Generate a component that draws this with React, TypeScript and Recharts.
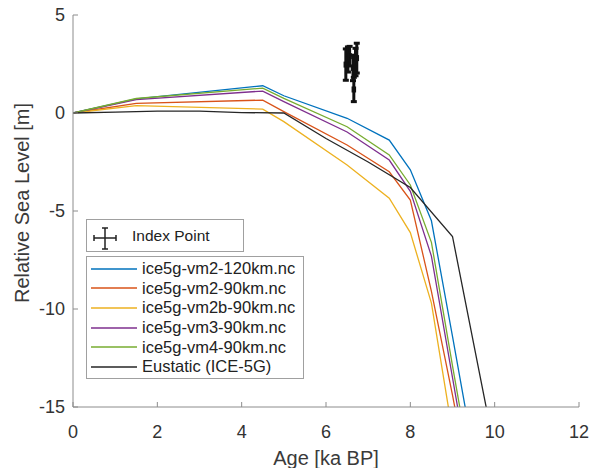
import React from "react";
import { ComposedChart, Line, Scatter, ErrorBar, XAxis, YAxis } from "recharts";

// model output, sampled at the same ages (ka BP)
const modelAges = [0, 1.5, 4.5, 5, 6.5, 7.5, 8, 8.5, 9, 9.5];
const vm2_120 = [0, 0.72, 1.39, 0.88, -0.27, -1.38, -2.9, -5.5, -11.4, -17.4];
const vm2_90 = [0, 0.49, 0.66, 0.07, -1.63, -3.0, -4.44, -9.1, -14.4, -20];
const vm2b_90 = [0, 0.38, 0.2, -0.44, -2.65, -4.35, -6.1, -9.7, -16.3, -22];
const vm3_90 = [0, 0.68, 1.12, 0.58, -0.97, -2.4, -4.0, -7.3, -13.5, -19.7];
const vm4_90 = [0, 0.74, 1.27, 0.75, -0.7, -2.14, -3.67, -6.6, -12.9, -19];

// eustatic curve
const eustaticAges = [0, 1, 2, 3, 4, 5, 6, 7, 8, 9, 10];
const eustatic = [0, 0.04, 0.1, 0.1, 0.02, 0, -1.3, -2.5, -3.8, -6.3, -17.2];

// index points (age, rsl, vertical error)
const indexAge = [6.47, 6.52, 6.56, 6.64, 6.66, 6.7, 6.73];
const indexRsl = [2.47, 2.73, 2.9, 2.3, 1.2, 2.6, 2.8];
const indexErr = [0.8, 0.64, 0.5, 0.65, 0.62, 0.7, 0.76];

const xTicks = [0, 2, 4, 6, 8, 10, 12];
const yTicks = [-15, -10, -5, 0, 5];

const FONT = "'Liberation Sans', Arial, sans-serif";
const AXIS = "#8c8c8c";

const toPoints = (xs: number[], ys: number[]) => xs.map((x, i) => ({ x, y: ys[i] }));

const series = [
  { name: "ice5g-vm2-120km.nc", color: "#0072BD", data: toPoints(modelAges, vm2_120) },
  { name: "ice5g-vm2-90km.nc", color: "#D95319", data: toPoints(modelAges, vm2_90) },
  { name: "ice5g-vm2b-90km.nc", color: "#EDB120", data: toPoints(modelAges, vm2b_90) },
  { name: "ice5g-vm3-90km.nc", color: "#7E2F8E", data: toPoints(modelAges, vm3_90) },
  { name: "ice5g-vm4-90km.nc", color: "#77AC30", data: toPoints(modelAges, vm4_90) },
  { name: "Eustatic (ICE-5G)", color: "#262626", data: toPoints(eustaticAges, eustatic) },
];

const indexData = indexAge.map((x, i) => ({ x, y: indexRsl[i], ey: indexErr[i], ex: 0.03 }));

const YLabel = ({ viewBox }: any) => {
  const cx = 22;
  const cy = viewBox.y + viewBox.height / 2 - 8;
  return (
    <text
      x={cx}
      y={cy}
      transform={`rotate(-90 ${cx} ${cy})`}
      textAnchor="middle"
      dominantBaseline="central"
      fontSize={20}
      fill="#3a3a3a"
      fontFamily={FONT}
    >
      Relative Sea Level [m]
    </text>
  );
};

const Legends = () => (
  <div style={{ position: "absolute", left: 86, top: 219, fontFamily: FONT, color: "#222" }}>
    <div
      style={{
        width: 158,
        height: 33,
        boxSizing: "border-box",
        border: "1px solid #a0a0a0",
        background: "#fff",
        display: "flex",
        alignItems: "center",
      }}
    >
      <svg width={30} height={31} style={{ marginLeft: 5, display: "block" }}>
        <g stroke="#222" strokeWidth={1.5}>
          <line x1={2} y1={18} x2={24} y2={18} />
          <line x1={13} y1={8} x2={13} y2={29} />
          <line x1={2} y1={15} x2={2} y2={21} />
          <line x1={24} y1={15} x2={24} y2={21} />
          <line x1={10} y1={8} x2={16} y2={8} />
          <line x1={10} y1={29} x2={16} y2={29} />
        </g>
      </svg>
      <span style={{ fontSize: 15.5, marginLeft: 10 }}>Index Point</span>
    </div>
    <div
      style={{
        marginTop: 4,
        boxSizing: "border-box",
        border: "1px solid #a0a0a0",
        background: "#fff",
        padding: "2px 8px 1px 4px",
      }}
    >
      {series.map((s) => (
        <div key={s.name} style={{ display: "flex", alignItems: "center", height: 19.6 }}>
          <svg width={46} height={4} style={{ display: "block" }}>
            <line x1={0} y1={2} x2={46} y2={2} stroke={s.color} strokeWidth={1.5} />
          </svg>
          <span style={{ fontSize: 16.5, marginLeft: 5, whiteSpace: "nowrap" }}>{s.name}</span>
        </div>
      ))}
    </div>
  </div>
);

export default function App() {
  return (
    <div style={{ position: "absolute", left: 0, top: 0, width: 592, height: 468, background: "#fff" }}>
      <ComposedChart width={592} height={468} margin={{ top: 15, right: 13, left: 0, bottom: 0 }}>
        <XAxis
          dataKey="x"
          type="number"
          domain={[0, 12]}
          ticks={xTicks}
          allowDataOverflow
          height={61}
          stroke={AXIS}
          tickSize={-5}
          tickMargin={23}
          tick={{ fill: "#333", fontSize: 18, fontFamily: FONT }}
          label={{
            value: "Age [ka BP]",
            position: "insideBottom",
            offset: 3,
            fontSize: 20,
            fill: "#3a3a3a",
            fontFamily: FONT,
          }}
        />
        <YAxis
          dataKey="y"
          type="number"
          domain={[-15, 5]}
          ticks={yTicks}
          allowDataOverflow
          width={73}
          stroke={AXIS}
          tickSize={-5}
          tickMargin={13}
          tick={{ fill: "#333", fontSize: 18, fontFamily: FONT }}
          label={<YLabel />}
        />
        {series.map((s) => (
          <Line
            key={s.name}
            data={s.data}
            dataKey="y"
            type="linear"
            stroke={s.color}
            strokeWidth={1.3}
            dot={false}
            activeDot={false}
            isAnimationActive={false}
          />
        ))}
        <Scatter data={indexData} dataKey="y" shape={() => <g />} isAnimationActive={false}>
          <ErrorBar dataKey="ey" direction="y" width={3} stroke="#111" strokeWidth={3} />
          <ErrorBar dataKey="ex" direction="x" width={3} stroke="#111" strokeWidth={2} />
        </Scatter>
      </ComposedChart>
      <Legends />
    </div>
  );
}
